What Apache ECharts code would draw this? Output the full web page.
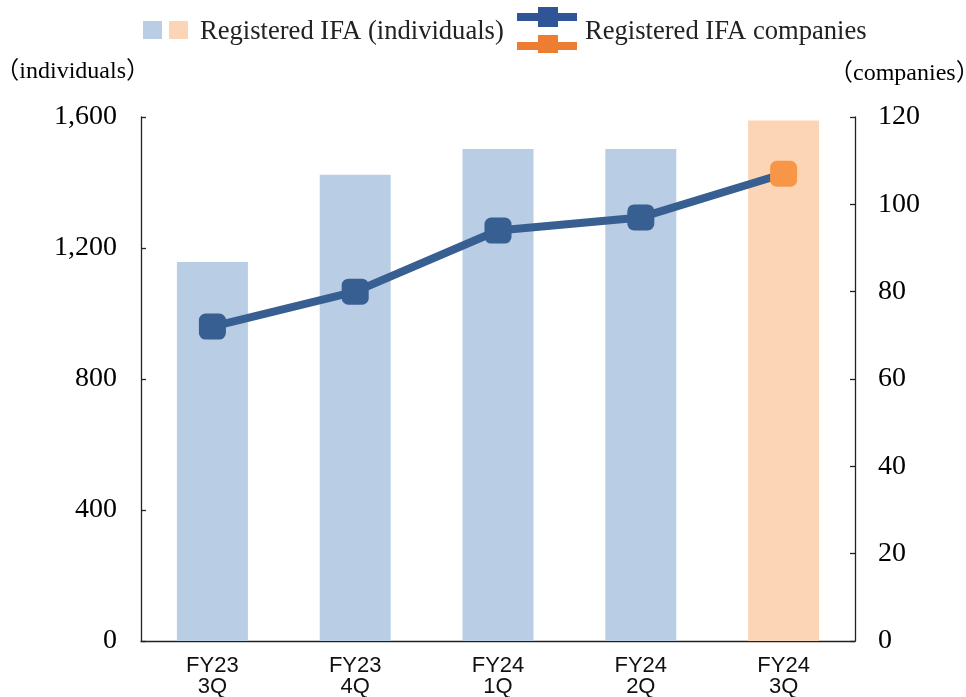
<!DOCTYPE html>
<html>
<head>
<meta charset="utf-8">
<script src="https://cdn.jsdelivr.net/npm/echarts@6/dist/echarts.min.js"></script>
<style>
html,body{margin:0;padding:0;background:#fff;}
#chart{width:966px;height:697px;}
</style>
</head>
<body>
<div id="chart"></div>
<script>
const categories = ['FY23\n3Q', 'FY23\n4Q', 'FY24\n1Q', 'FY24\n2Q', 'FY24\n3Q'];
const individuals = [1157, 1424, 1502, 1502, 1589];
const companies = [72, 80, 94, 97, 107];
const leftTicks = [0, 400, 800, 1200, 1600];
const rightTicks = [0, 20, 40, 60, 80, 100, 120];
const seriesNames = ['Registered IFA (individuals)', 'Registered IFA companies'];
const axisNames = ['（individuals）', '（companies）'];

const BAR_BLUE = '#B9CDE5', BAR_ORANGE = '#FBD5B5';
const LINE_BLUE = '#375F92', MARK_ORANGE = '#F79646';
const SERIF = '"Times New Roman","Liberation Serif","Noto Sans CJK JP",serif';

const chart = echarts.init(document.getElementById('chart'));
const last = categories.length - 1;

chart.setOption({
  animation: false,
  backgroundColor: '#fff',
  grid: { left: 141, right: 111, top: 117, bottom: 56, containLabel: false, outerBoundsMode: 'none' },
  xAxis: {
    type: 'category',
    data: categories,
    axisLine: { lineStyle: { color: '#222', width: 1.3 } },
    axisTick: { show: false },
    axisLabel: { fontFamily: '"Liberation Sans",Arial,sans-serif', fontSize: 22, color: '#111', lineHeight: 21, margin: 14 }
  },
  yAxis: [{
    type: 'value', min: leftTicks[0], max: leftTicks[leftTicks.length - 1], interval: 400,
    splitLine: { show: false },
    axisLine: { show: true, lineStyle: { color: '#222', width: 1.3 } },
    axisTick: { show: true, inside: true, length: 5, lineStyle: { color: '#222', width: 1.3 } },
    axisLabel: { fontFamily: SERIF, fontSize: 28, color: '#000', margin: 24,
      formatter: v => v.toLocaleString('en-US') }
  }, {
    type: 'value', min: rightTicks[0], max: rightTicks[rightTicks.length - 1], interval: 20,
    position: 'right',
    splitLine: { show: false },
    axisLine: { show: true, lineStyle: { color: '#222', width: 1.3 } },
    axisTick: { show: true, inside: true, length: 5, lineStyle: { color: '#222', width: 1.3 } },
    axisLabel: { fontFamily: SERIF, fontSize: 28, color: '#000', margin: 23 }
  }],
  series: [{
    name: seriesNames[0],
    type: 'bar',
    barWidth: 71,
    data: individuals.map((v, i) => ({ value: v, itemStyle: { color: i === last ? BAR_ORANGE : BAR_BLUE } })),
    z: 1
  }, {
    name: seriesNames[1],
    type: 'line',
    yAxisIndex: 1,
    symbol: 'roundRect',
    symbolSize: [27, 26],
    lineStyle: { color: LINE_BLUE, width: 8 },
    itemStyle: { color: LINE_BLUE },
    data: companies.map((v, i) => ({ value: v, itemStyle: { color: i === last ? MARK_ORANGE : LINE_BLUE } })),
    z: 3
  }],
  graphic: [
    { type: 'rect', shape: { x: 143, y: 21, width: 19, height: 18 }, style: { fill: BAR_BLUE } },
    { type: 'rect', shape: { x: 169, y: 21, width: 19, height: 18 }, style: { fill: BAR_ORANGE } },
    { type: 'text', x: 200, y: 32, style: { text: seriesNames[0], font: '26.6px ' + SERIF, fill: '#222', textVerticalAlign: 'middle' } },
    { type: 'rect', shape: { x: 517, y: 13, width: 60, height: 8 }, style: { fill: '#2F5597' } },
    { type: 'rect', shape: { x: 538, y: 7, width: 20, height: 20 }, style: { fill: '#2F5597' } },
    { type: 'rect', shape: { x: 517, y: 42, width: 60, height: 8 }, style: { fill: '#ED7D31' } },
    { type: 'rect', shape: { x: 538, y: 35, width: 20, height: 18 }, style: { fill: '#ED7D31' } },
    { type: 'text', x: 585, y: 32, style: { text: seriesNames[1], font: '26.6px ' + SERIF, fill: '#222', textVerticalAlign: 'middle' } },
    { type: 'text', x: 150, y: 72, style: { text: axisNames[0], font: '24px ' + SERIF, fill: '#000', textAlign: 'right', textVerticalAlign: 'middle' } },
    { type: 'text', x: 829, y: 74, style: { text: axisNames[1], font: '24px ' + SERIF, fill: '#000', textAlign: 'left', textVerticalAlign: 'middle' } }
  ]
});
</script>
</body>
</html>
